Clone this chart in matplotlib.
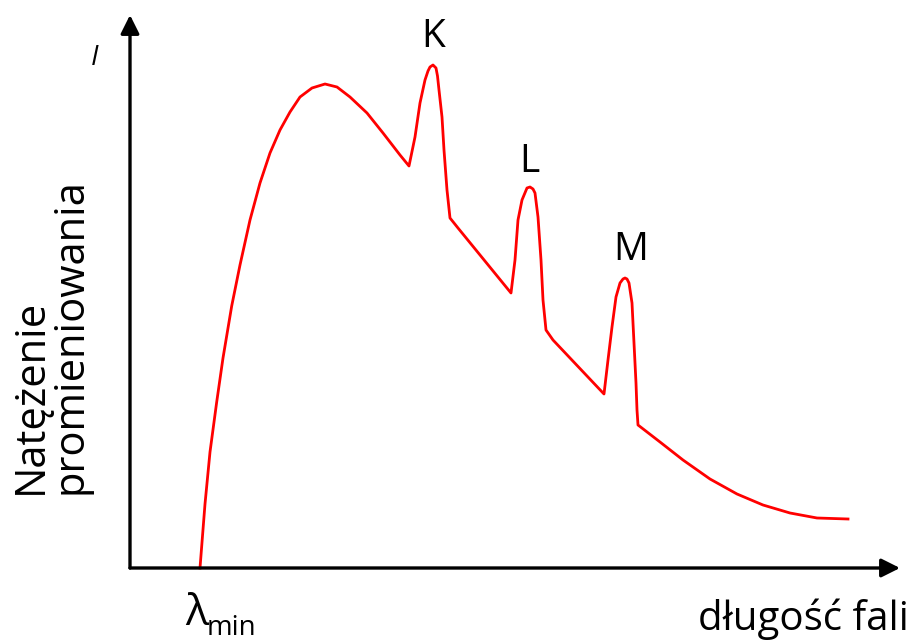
import matplotlib
matplotlib.use('Agg')
import matplotlib.pyplot as plt

plt.rcParams['font.family'] = ['Open Sans', 'DejaVu Sans']

# widmo promieniowania rentgenowskiego (punkty, jednostki umowne)
dlugosc = [70, 75, 80, 86.7, 93, 101.7, 110, 120, 130, 140, 150, 160, 170, 182, 195,
           207, 220, 237, 253, 270, 279,
           285, 290, 295, 298, 300, 303, 306, 307.5, 309, 312, 314, 317, 320, 328,
           381,
           385, 388, 392, 397, 400, 403, 405, 408, 411, 413, 416, 423,
           474,
           478, 482, 486, 490, 493, 495, 497, 499, 502, 504, 506, 507, 508,
           530, 553, 580, 607, 633, 660, 687, 718]
natezenie = [0, 64, 116, 166, 210, 262, 303, 348, 385, 415, 438, 456, 471, 480, 484,
             481, 471, 455, 435, 413, 402,
             431, 465, 488, 497, 501, 503, 500, 492, 478, 451, 418, 378, 350, 340,
             275,
             308, 348, 368, 380, 381, 379, 375, 351, 308, 268, 238, 228,
             174,
             208, 241, 271, 285, 289, 290, 289, 285, 265, 225, 185, 158, 143,
             126, 108, 89, 74, 63, 55, 50, 49]

pik_nazwy = ['K', 'L', 'M']
pik_x = [303, 399, 501]
pik_y = [521, 396, 308]

fig = plt.figure(figsize=(9.12, 6.41), dpi=100)
ax = fig.add_axes([0, 0, 1, 1])
ax.set_xlim(-130, 782)
ax.set_ylim(-73, 568)
ax.axis('off')

# osie ze strzalkami
strzalka = dict(arrowstyle='-|>', lw=2.4, color='black', mutation_scale=28,
                shrinkA=0, shrinkB=0)
ax.annotate('', xy=(0, 553), xytext=(0, 0), arrowprops=strzalka)
ax.annotate('', xy=(770, 0), xytext=(0, 0), arrowprops=strzalka)

ax.plot(dlugosc, natezenie, color='red', lw=2.0, solid_joinstyle='round')

for nazwa, px, py in zip(pik_nazwy, pik_x, pik_y):
    ax.text(px, py, nazwa, fontsize=28, ha='center', va='baseline')

ax.text(-35, 510, 'I', fontsize=20, style='italic', ha='center', va='center')
ax.text(55, -57, 'λ', fontsize=31, ha='left', va='baseline')
ax.text(77, -67, 'min', fontsize=20, ha='left', va='baseline')
ax.text(779, -62, 'długość fali', fontsize=29, ha='right', va='baseline')
ax.text(-79, 232, 'Natężenie\npromieniowania', fontsize=30, rotation=90,
        ha='center', va='center', multialignment='left', linespacing=0.92)

fig.savefig('out.png', dpi=100)
